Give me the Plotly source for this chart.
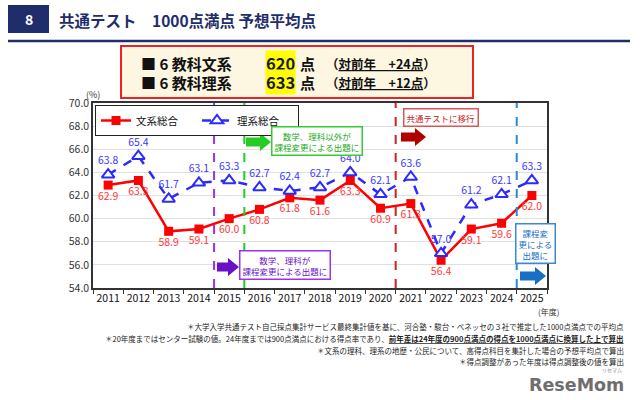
import plotly.graph_objects as go

years = ["2011", "2012", "2013", "2014", "2015", "2016", "2017", "2018",
         "2019", "2020", "2021", "2022", "2023", "2024", "2025"]
bunkei = [62.9, 63.3, 58.9, 59.1, 60.0, 60.8, 61.8, 61.6, 63.3, 60.9, 61.3, 56.4, 59.1, 59.6, 62.0]
rikei = [63.8, 65.4, 61.7, 63.1, 63.3, 62.7, 62.4, 62.7, 64.0, 62.1, 63.6, 57.0, 61.2, 62.1, 63.3]
y_ticks = [54, 56, 58, 60, 62, 64, 66, 68, 70]

FONT = "Noto Sans CJK JP"
NAVY = "#1f2d6b"

L, R, T, B = 93, 547, 103, 288
W, H = R - L, B - T


def px(x):
    return (x - L) / W


def py(y):
    return (B - y) / H


fig = go.Figure()
fig.add_trace(go.Scatter(
    x=years, y=bunkei, name="文系総合", mode="lines+markers+text",
    line=dict(color="#ff0000", width=2.5),
    marker=dict(symbol="square", size=9, color="#ff0000"),
    text=[f"{v:.1f}" for v in bunkei], textposition="bottom center",
    textfont=dict(color="#ff3b3b", size=10.5, family=FONT),
))
fig.add_trace(go.Scatter(
    x=years, y=rikei, name="理系総合", mode="lines+markers+text",
    line=dict(color="#2b2bff", width=2.5, dash="dash"),
    marker=dict(symbol="triangle-up", size=11, color="white",
                line=dict(color="#2b2bff", width=2)),
    text=[f"{v:.1f}" for v in rikei], textposition="top center",
    textfont=dict(color="#3a3aff", size=10.5, family=FONT),
))

shapes = []
annotations = []

# vertical dashed separators (between categories)
for idx, col in [(3.5, "#9933ee"), (4.5, "#22cc22"), (9.5, "#cc2222"), (13.5, "#2a8ad8")]:
    shapes.append(dict(type="line", xref="x", yref="paper", x0=idx, x1=idx, y0=0, y1=1,
                       line=dict(color=col, width=2, dash="dash"), layer="above"))


def arrow(x0, x1, yc, color):
    sh, hh, hl = 4.5, 9, 11
    pts = [(x0, yc - sh), (x1 - hl, yc - sh), (x1 - hl, yc - hh), (x1, yc),
           (x1 - hl, yc + hh), (x1 - hl, yc + sh), (x0, yc + sh)]
    path = "M " + " L ".join(f"{px(a):.5f},{py(b):.5f}" for a, b in pts) + " Z"
    shapes.append(dict(type="path", xref="paper", yref="paper", path=path,
                       fillcolor=color, line=dict(width=0), layer="above"))


arrow(246, 271, 142, "#22cc22")
arrow(217, 239, 267, "#6a10c8")
arrow(401, 426, 137, "#b00000")
arrow(520, 546, 276, "#1a6fc4")


def box_note(cx, cy, text, color, border, size=8.5):
    annotations.append(dict(xref="paper", yref="paper", x=px(cx), y=py(cy), text=text,
                            showarrow=False, font=dict(color=color, size=size, family=FONT),
                            bgcolor="white", bordercolor=border, borderwidth=1.5, borderpad=2,
                            xanchor="center", yanchor="middle", align="center"))


box_note(317, 140.5, "数学、理科以外が<br>課程変更による出題に", "#22aa22", "#33cc33")
box_note(285, 265, "数学、理科が<br>課程変更による出題に", "#6a10c8", "#9933ee")
box_note(441, 117, "共通テストに移行", "#cc2222", "#dd5555")
box_note(535, 243, "課程変<br>更による<br>出題に", "#1a6fc4", "#3a8ad8")

# header
shapes.append(dict(type="rect", xref="paper", yref="paper", x0=px(8), x1=px(49), y0=py(33), y1=py(5),
                   fillcolor=NAVY, line=dict(width=0)))
annotations.append(dict(xref="paper", yref="paper", x=px(28.5), y=py(19), text="<b>8</b>", showarrow=False,
                        font=dict(color="white", size=14, family=FONT), xanchor="center", yanchor="middle"))
annotations.append(dict(xref="paper", yref="paper", x=px(57), y=py(20), text="<b>共通テスト　1000点満点 予想平均点</b>",
                        showarrow=False, font=dict(color=NAVY, size=15.5, family=FONT),
                        xanchor="left", yanchor="middle"))
shapes.append(dict(type="line", xref="paper", yref="paper", x0=px(8), x1=px(630), y0=py(41), y1=py(41),
                   line=dict(color=NAVY, width=2.5)))

# info box
shapes.append(dict(type="rect", xref="paper", yref="paper", x0=px(121), x1=px(473), y0=py(98), y1=py(46),
                   fillcolor="#fdf6e1", line=dict(color="#ee2222", width=2)))
for yy, subj, val, diff in [(63, "■ 6 教科文系", "620", "+24点"), (82, "■ 6 教科理系", "633", "+12点")]:
    annotations.append(dict(xref="paper", yref="paper", x=px(139), y=py(yy), text=f"<b>{subj}</b>",
                            showarrow=False, font=dict(color="#111", size=15, family=FONT),
                            xanchor="left", yanchor="middle"))
    annotations.append(dict(xref="paper", yref="paper", x=px(265), y=py(yy), text=f"<b>{val}</b>",
                            showarrow=False, font=dict(color="#1a1a3a", size=16.5, family=FONT),
                            bgcolor="#ffff00", borderpad=0, xanchor="left", yanchor="middle"))
    annotations.append(dict(xref="paper", yref="paper", x=px(298), y=py(yy), text="<b>点</b>",
                            showarrow=False, font=dict(color="#111", size=15, family=FONT),
                            xanchor="left", yanchor="middle"))
    annotations.append(dict(xref="paper", yref="paper", x=px(324), y=py(yy),
                            text=f"<b>（<u>対前年　{diff}</u>）</b>",
                            showarrow=False, font=dict(color="#111", size=12.5, family=FONT),
                            xanchor="left", yanchor="middle"))

# axis extras
annotations.append(dict(xref="paper", yref="paper", x=px(93), y=py(94), text="(%)", showarrow=False,
                        font=dict(color="#333", size=9, family=FONT), xanchor="center", yanchor="middle"))
annotations.append(dict(xref="paper", yref="paper", x=px(548), y=py(311), text="(年度)", showarrow=False,
                        font=dict(color="#333", size=8, family=FONT), xanchor="center", yanchor="middle"))

notes = [
    (326, "＊大学入学共通テスト自己採点集計サービス最終集計値を基に、河合塾・駿台・ベネッセの３社で推定した1000点満点での平均点"),
    (338, "＊20年度まではセンター試験の値。24年度までは900点満点における得点率であり、<b><u>前年差は24年度の900点満点の得点を1000点満点に換算した上で算出</u></b>"),
    (350, "＊文系の理科、理系の地歴・公民について、高得点科目を集計した場合の予想平均点で算出"),
    (361, "＊得点調整があった年度は得点調整後の値を算出"),
]
for yy, t in notes:
    annotations.append(dict(xref="paper", yref="paper", x=px(626), y=py(yy), text=t, showarrow=False,
                            font=dict(color="#222", size=7.5, family=FONT), xanchor="right", yanchor="middle"))

annotations.append(dict(xref="paper", yref="paper", x=px(626), y=py(385), text="<b>ReseMom</b>", showarrow=False,
                        font=dict(color="#6e6e6e", size=17.5, family="DejaVu Sans"), xanchor="right", yanchor="middle"))
annotations.append(dict(xref="paper", yref="paper", x=px(612), y=py(370), text="リセマム", showarrow=False,
                        font=dict(color="#888", size=5, family=FONT), xanchor="center", yanchor="middle"))

fig.update_layout(
    width=640, height=400,
    margin=dict(l=L, r=640 - R, t=T, b=400 - B),
    paper_bgcolor="white", plot_bgcolor="white",
    font=dict(family=FONT, color="#222"),
    showlegend=True,
    legend=dict(orientation="h", x=px(95), y=py(105), xanchor="left", yanchor="top",
                bgcolor="white", bordercolor="#222", borderwidth=1,
                font=dict(size=10.5, family=FONT, color="#111"), itemwidth=30,
                entrywidth=56, entrywidthmode="pixels", tracegroupgap=0),
    xaxis=dict(type="category", tickson="boundaries", ticks="outside", ticklen=4, tickcolor="#333",
               showline=True, linecolor="#333", linewidth=1.5, mirror=True, showgrid=False,
               tickangle=0,
               tickfont=dict(size=10.5, color="#111", family=FONT), range=[-0.5, 14.5]),
    yaxis=dict(range=[54, 70], tickvals=y_ticks, ticktext=[f"{v:.1f}" for v in y_ticks],
               showline=True, linecolor="#333", linewidth=1.5, mirror=True,
               gridcolor="#e0e0e0", gridwidth=1, ticks="",
               tickfont=dict(size=10.5, color="#333", family=FONT), zeroline=False),
    shapes=shapes, annotations=annotations,
)

fig.write_html("out.html", config={"displayModeBar": False},
               post_script="document.body.style.margin='0';document.body.style.padding='0';")
